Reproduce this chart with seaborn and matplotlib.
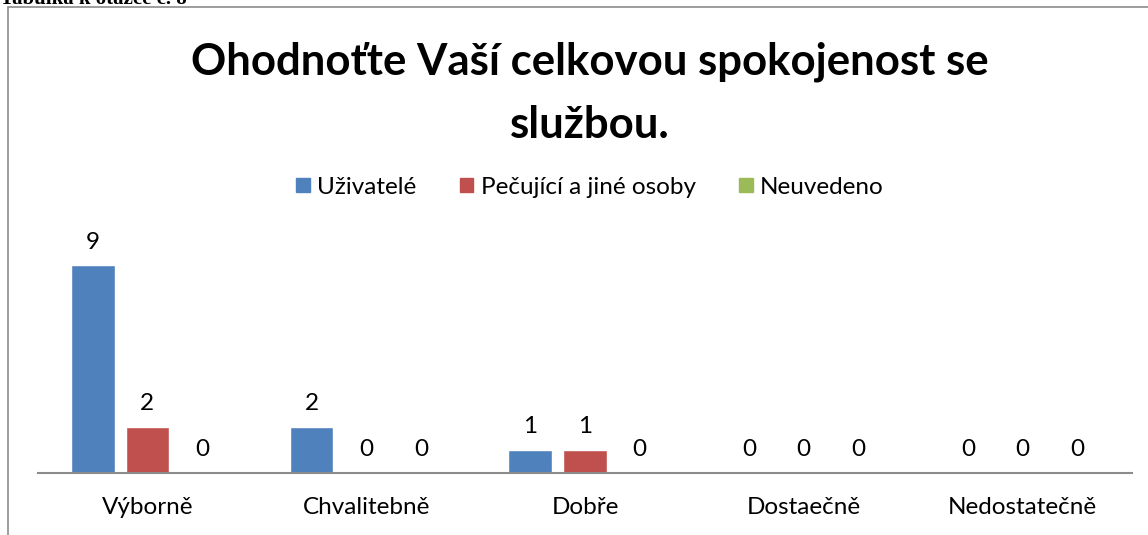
import matplotlib
matplotlib.use("Agg")
import matplotlib.pyplot as plt
import pandas as pd
import seaborn as sns
from matplotlib.patches import Rectangle

kategorie = ["Výborně", "Chvalitebně", "Dobře", "Dostaečně", "Nedostatečně"]
skupiny = ["Uživatelé", "Pečující a jiné osoby", "Neuvedeno"]
uzivatele = [9, 2, 1, 0, 0]
pecujici = [2, 0, 1, 0, 0]
neuvedeno = [0, 0, 0, 0, 0]
barvy = ["#4F81BD", "#C0504D", "#9BBB59"]

rows = []
for skupina, hodnoty in zip(skupiny, [uzivatele, pecujici, neuvedeno]):
    for kat, v in zip(kategorie, hodnoty):
        rows.append({"kategorie": kat, "skupina": skupina, "pocet": v})
df = pd.DataFrame(rows)

sns.set_theme(style="white")
plt.rcParams["font.family"] = ["Lato", "DejaVu Sans"]
plt.rcParams["text.color"] = "black"
plt.rcParams["xtick.color"] = "black"

W, H = 1148, 535
fig = plt.figure(figsize=(W / 100, H / 100), dpi=100)

# frame of the chart
fig.patches.append(Rectangle((8 / W, -0.1), 1.2, 1 - 7 / H + 0.1, transform=fig.transFigure,
                             fill=False, edgecolor="#8c8c8c", linewidth=1.2))
# cropped caption above the chart
fig.text(0.0, 1 - 4 / H, "Tabulka k otázce č. 8", family="Liberation Serif",
         fontweight="bold", fontsize=15, va="baseline", ha="left")

ax = fig.add_axes([38 / W, 1 - 473 / H, (1132 - 38) / W, (473 - 242) / H])
sns.barplot(data=df, x="kategorie", y="pocet", hue="skupina", palette=barvy,
            saturation=1, width=0.75, gap=0.2, ax=ax, errorbar=None, legend=False)
ax.set_ylim(0, 10)
ax.set_xlim(-0.5, 4.5)
for c in ax.containers:
    ax.bar_label(c, fmt="%d", padding=9, fontsize=17.5)

ax.set_xlabel("")
ax.set_ylabel("")
ax.set_yticks([])
ax.tick_params(axis="x", length=0, labelsize=17.5, pad=17)
for s in ["top", "right", "left"]:
    ax.spines[s].set_visible(False)
ax.spines["bottom"].set_color("#8c8c8c")
ax.spines["bottom"].set_linewidth(1.5)
ax.set_facecolor("none")

handles = [Rectangle((0, 0), 1, 1, color=b) for b in barvy]
fig.legend(handles, skupiny, loc="center", bbox_to_anchor=(590 / W, 1 - 187 / H),
           ncol=3, frameon=False, fontsize=17.5, handlelength=0.55, handleheight=0.55,
           handletextpad=0.3, columnspacing=1.8)

fig.text(590 / W, 1 - 93 / H, "Ohodnoťte Vaší celkovou spokojenost se\nslužbou.",
         ha="center", va="center", fontsize=31.5, fontweight="bold", linespacing=1.7)

fig.savefig("out.png", dpi=100)
